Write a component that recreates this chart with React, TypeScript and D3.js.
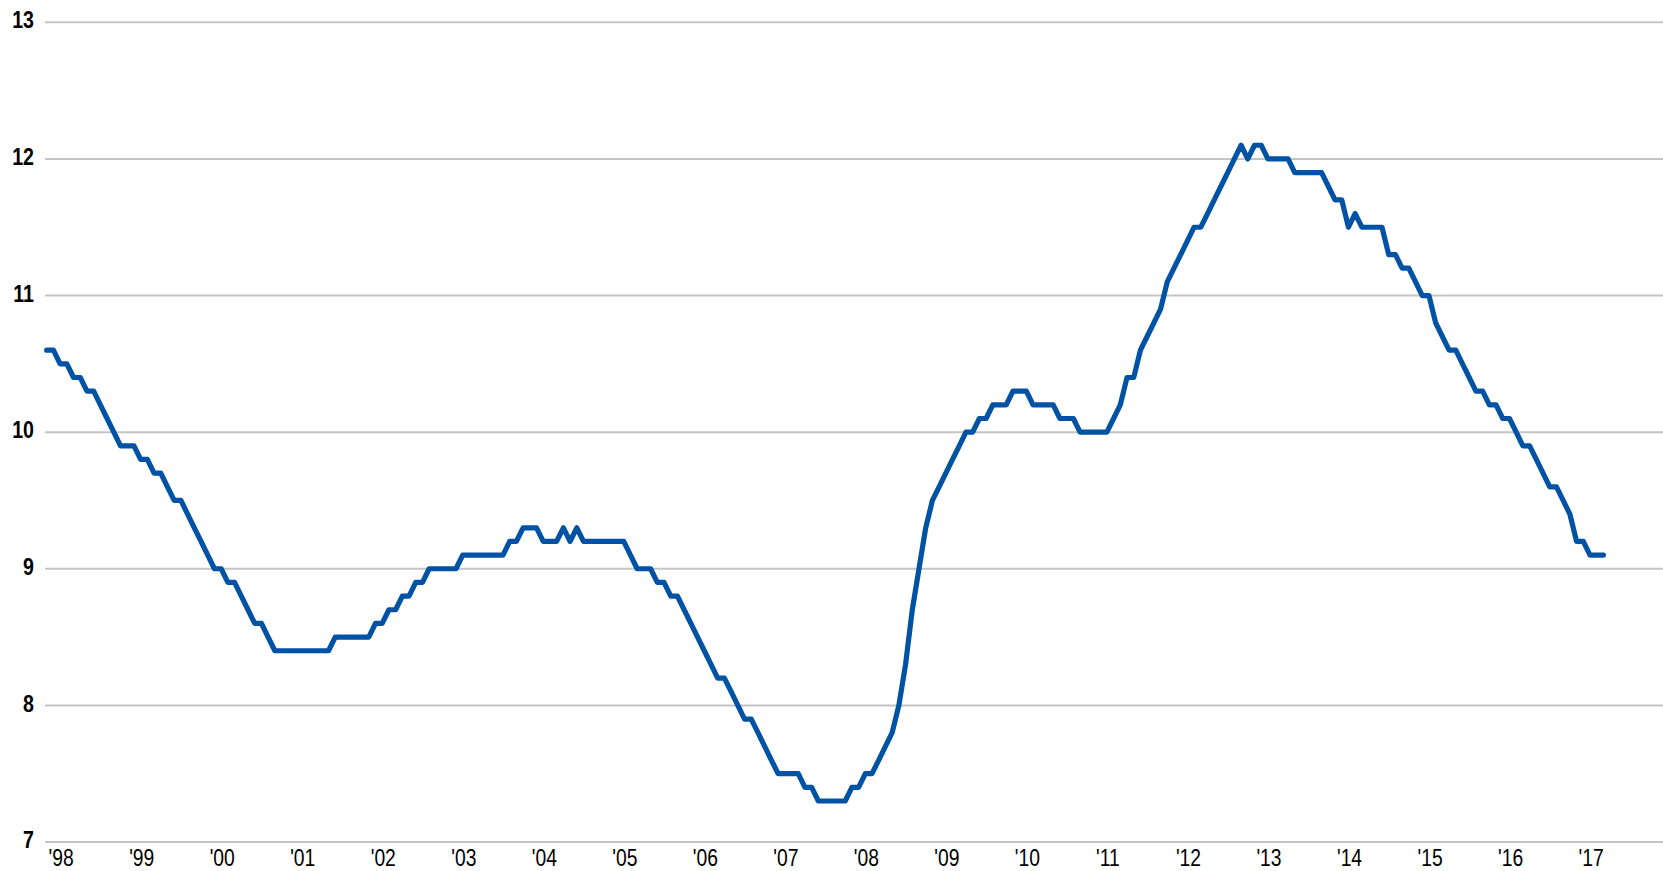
import React from "react";
import * as d3 from "d3";

// Monthly values, Jan 1998 – May 2017
const startYear = 1998;
const values: number[] = [
  10.6, 10.6, 10.5, 10.5, 10.4, 10.4, 10.3, 10.3, 10.2, 10.1, 10.0, 9.9,
  9.9, 9.9, 9.8, 9.8, 9.7, 9.7, 9.6, 9.5, 9.5, 9.4, 9.3, 9.2,
  9.1, 9.0, 9.0, 8.9, 8.9, 8.8, 8.7, 8.6, 8.6, 8.5, 8.4, 8.4,
  8.4, 8.4, 8.4, 8.4, 8.4, 8.4, 8.4, 8.5, 8.5, 8.5, 8.5, 8.5,
  8.5, 8.6, 8.6, 8.7, 8.7, 8.8, 8.8, 8.9, 8.9, 9.0, 9.0, 9.0,
  9.0, 9.0, 9.1, 9.1, 9.1, 9.1, 9.1, 9.1, 9.1, 9.2, 9.2, 9.3,
  9.3, 9.3, 9.2, 9.2, 9.2, 9.3, 9.2, 9.3, 9.2, 9.2, 9.2, 9.2,
  9.2, 9.2, 9.2, 9.1, 9.0, 9.0, 9.0, 8.9, 8.9, 8.8, 8.8, 8.7,
  8.6, 8.5, 8.4, 8.3, 8.2, 8.2, 8.1, 8.0, 7.9, 7.9, 7.8, 7.7,
  7.6, 7.5, 7.5, 7.5, 7.5, 7.4, 7.4, 7.3, 7.3, 7.3, 7.3, 7.3,
  7.4, 7.4, 7.5, 7.5, 7.6, 7.7, 7.8, 8.0, 8.3, 8.7, 9.0, 9.3,
  9.5, 9.6, 9.7, 9.8, 9.9, 10.0, 10.0, 10.1, 10.1, 10.2, 10.2, 10.2,
  10.3, 10.3, 10.3, 10.2, 10.2, 10.2, 10.2, 10.1, 10.1, 10.1, 10.0, 10.0,
  10.0, 10.0, 10.0, 10.1, 10.2, 10.4, 10.4, 10.6, 10.7, 10.8, 10.9, 11.1,
  11.2, 11.3, 11.4, 11.5, 11.5, 11.6, 11.7, 11.8, 11.9, 12.0, 12.1, 12.0,
  12.1, 12.1, 12.0, 12.0, 12.0, 12.0, 11.9, 11.9, 11.9, 11.9, 11.9, 11.8,
  11.7, 11.7, 11.5, 11.6, 11.5, 11.5, 11.5, 11.5, 11.3, 11.3, 11.2, 11.2,
  11.1, 11.0, 11.0, 10.8, 10.7, 10.6, 10.6, 10.5, 10.4, 10.3, 10.3, 10.2,
  10.2, 10.1, 10.1, 10.0, 9.9, 9.9, 9.8, 9.7, 9.6, 9.6, 9.5, 9.4,
  9.2, 9.2, 9.1, 9.1, 9.1,
];

const yTicks: number[] = [7, 8, 9, 10, 11, 12, 13];
const yearLabels: string[] = [
  "'98", "'99", "'00", "'01", "'02", "'03", "'04", "'05", "'06", "'07",
  "'08", "'09", "'10", "'11", "'12", "'13", "'14", "'15", "'16", "'17",
];

const W = 1663;
const H = 871;
const FONT = "'Liberation Sans', Arial, sans-serif";

export default function App() {
  const x = d3
    .scaleLinear()
    .domain([0, values.length - 1])
    .range([46.7, 46.7 + 6.71 * (values.length - 1)]);
  const y = d3.scaleLinear().domain([7, 13]).range([842, 22.3]);
  const line = d3
    .line<number>()
    .x((_, i) => x(i))
    .y((d) => y(d));

  return (
    <svg
      width={W}
      height={H}
      style={{ position: "absolute", left: 0, top: 0, background: "#fff" }}
      fontFamily={FONT}
    >
      {yTicks.map((t) => (
        <g key={t}>
          <line x1={45} x2={W} y1={y(t)} y2={y(t)} stroke="#c4c4c4" strokeWidth={2} />
          <g transform={`translate(34,${y(t)}) scale(0.8,1)`}>
            <text x={0} y={0} dy="0.25em" textAnchor="end" fontSize={24.5} fontWeight="bold" fill="#000">
              {t}
            </text>
          </g>
        </g>
      ))}
      {yearLabels.map((lab, k) => (
        <g key={lab} transform={`translate(${x(12 * k) + 14.5},866) scale(0.84,1)`}>
          <text x={0} y={0} textAnchor="middle" fontSize={23} fill="#000">
            {lab}
          </text>
        </g>
      ))}
      <path
        d={line(values) || ""}
        fill="none"
        stroke="#0052a5"
        strokeWidth={5.2}
        strokeLinejoin="round"
        strokeLinecap="round"
      />
    </svg>
  );
}
